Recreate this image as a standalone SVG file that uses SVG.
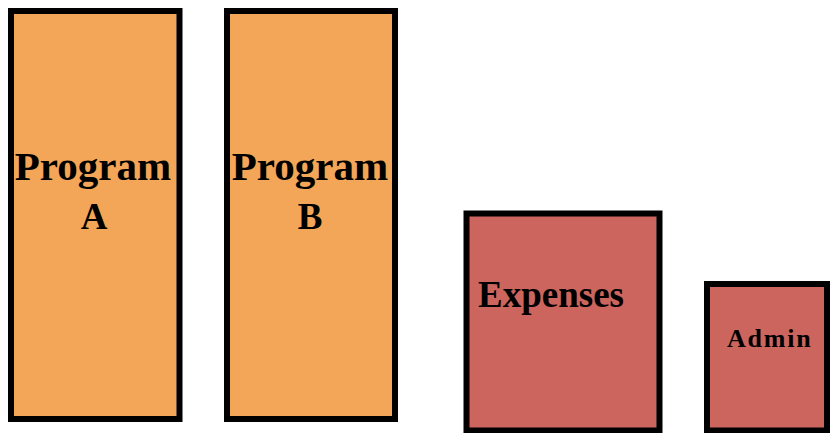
<svg xmlns="http://www.w3.org/2000/svg" width="830" height="433" viewBox="0 0 830 433">
<style>
.box{stroke:#000;stroke-width:6}
.org{fill:#F3A657}
.red{fill:#CC655D}
text{font-family:"Liberation Serif","Times New Roman",serif;font-weight:bold;fill:#000}
</style>
<rect width="830" height="433" fill="#fff"/>
<g id="program-a">
<rect class="box org" x="11" y="11" width="168.5" height="408"/>
<text x="93" y="180" font-size="41" text-anchor="middle">Program</text>
<text x="94" y="229" font-size="37" text-anchor="middle">A</text>
</g>
<g id="program-b">
<rect class="box org" x="227" y="11" width="168" height="408"/>
<text x="310" y="180" font-size="41" text-anchor="middle">Program</text>
<text x="310" y="229" font-size="37" text-anchor="middle">B</text>
</g>
<g id="expenses">
<rect class="box red" x="466.5" y="213.5" width="193" height="217"/>
<text x="478" y="307" font-size="37">Expenses</text>
</g>
<g id="admin">
<rect class="box red" x="707" y="284" width="120" height="146.5"/>
<text x="727" y="347" font-size="26" letter-spacing="1.8">Admin</text>
</g>
<g id="connectors"/>
</svg>
